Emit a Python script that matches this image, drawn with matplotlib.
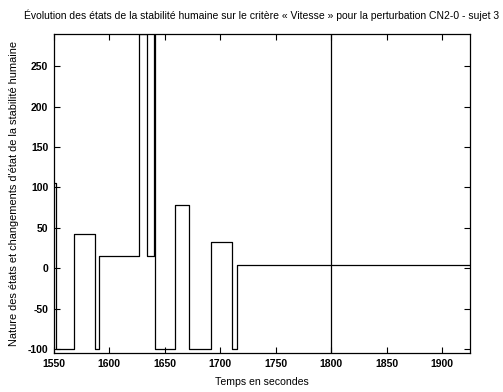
import numpy as np
from matplotlib import pyplot as plt

# temps (s) et valeur de l'état, en escalier
temps = [1550, 1552, 1568, 1587.5, 1591, 1627, 1634, 1640, 1641,
         1659.5, 1672, 1692, 1710.5, 1715, 1925]
etat = [105, -100, 43, -100, 15, 290, 15, 290, -100,
        78, -100, 32, -100, 4, 4]
evenements = [1800]

xticks = [1550, 1600, 1650, 1700, 1750, 1800, 1850, 1900]
yticks = [-100, -50, 0, 50, 100, 150, 200, 250]

plt.rcParams['font.family'] = ['Liberation Sans', 'DejaVu Sans']
plt.rcParams['axes.unicode_minus'] = False

fig = plt.figure(figsize=(5.03, 3.92), dpi=100)
ax = fig.add_axes([0.107, 0.0995, 0.827, 0.8135])

ax.plot(temps, etat, color='black', lw=0.9, drawstyle='steps-post')
for t in evenements:
    ax.axvline(t, color='black', lw=0.9)

ax.set_xlim(1550, 1925)
ax.set_ylim(-105, 290)
ax.set_xticks(xticks)
ax.set_yticks(yticks)
ax.tick_params(direction='in', top=True, right=True, length=4, width=0.8,
               labelsize=7.5, pad=4)
for lab in ax.get_xticklabels() + ax.get_yticklabels():
    lab.set_fontweight('bold')
for s in ax.spines.values():
    s.set_linewidth(0.9)

ax.set_title("Évolution des états de la stabilité humaine sur le critère « Vitesse » pour la perturbation CN2-0 - sujet 3",
             fontsize=7.45, pad=11)
ax.set_xlabel("Temps en secondes", fontsize=7.6, labelpad=6)
ax.set_ylabel("Nature des états et changements d'état de la stabilité humaine", fontsize=7.9, labelpad=6)

fig.savefig('out.png', dpi=100)
